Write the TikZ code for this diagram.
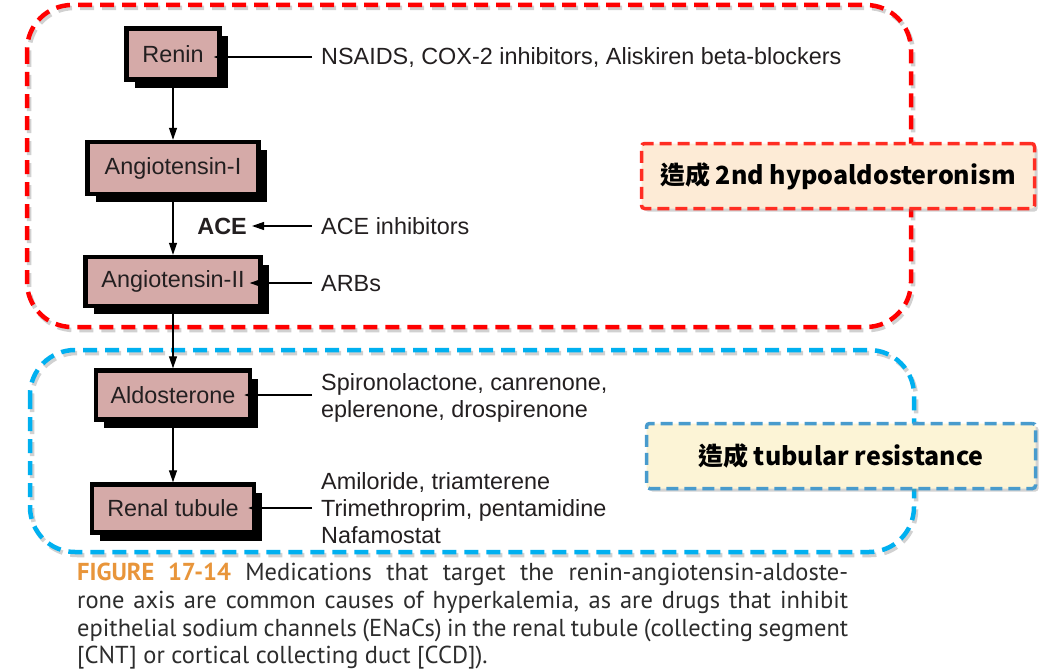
\documentclass[tikz,border=0pt]{standalone}
\usepackage{fontspec}
\setmainfont{Liberation Sans}
\newfontfamily\cjk{Noto Sans CJK TC}
\newfontfamily\capfont{PT Sans}
\usetikzlibrary{arrows.meta,shadows}
\definecolor{pinkc}{RGB}{213,170,168}
\definecolor{txtc}{RGB}{35,31,32}
\definecolor{regred}{RGB}{255,0,0}
\definecolor{regblue}{RGB}{0,176,240}
\definecolor{lred}{RGB}{255,45,35}
\definecolor{lblue}{RGB}{72,155,205}
\definecolor{lfillA}{RGB}{253,235,214}
\definecolor{lfillB}{RGB}{252,244,214}
\definecolor{capc}{RGB}{45,45,45}
\definecolor{figc}{RGB}{232,149,58}
\begin{document}
\begin{tikzpicture}[x=1pt,y=-1pt,
  txt/.style={font=\fontsize{23.4}{27}\selectfont, text=txtc, inner sep=0pt, anchor=base west},
  stage/.style={draw=black, line width=4.4pt, fill=pinkc, inner sep=0pt, text=txtc,
    font=\fontsize{23.4}{27}\selectfont,
    general shadow={fill=black, shadow xshift=8pt, shadow yshift=-8pt}},
  arr/.style={-{Triangle[length=12pt,width=8pt]}, line width=1.2pt, draw=black},
  side/.style={arr, shorten >=-8pt},
  region/.style={line width=4.5pt, dash pattern=on 14pt off 8pt, rounded corners=45pt},
  regshadow/.style={region, draw=black!40, opacity=0.45},
  labelbox/.style={line width=3.5pt, dash pattern=on 12pt off 6pt, rounded corners=3pt,
    inner sep=0pt, minimum height=65pt, text=black,
    font=\cjk\bfseries\fontsize{25}{30}\selectfont,
    drop shadow={shadow xshift=3pt, shadow yshift=-3pt, opacity=0.35}},
  captext/.style={font=\capfont\fontsize{24.5}{28}\selectfont, text=capc, inner sep=0pt, anchor=base west}
]
\useasboundingbox[fill=white] (0,0) rectangle (1060,669);

% regions
\draw[regshadow] (29,8) rectangle (913,330);
\draw[regshadow] (32,353) rectangle (916,555);
\draw[region, draw=regred] (27,5) rectangle (911,327);
\draw[region, draw=regblue] (30,350) rectangle (914,552);

% stages
\node[stage, minimum width=93pt, minimum height=51pt] (renin) at (173,54) {Renin};
\node[stage, minimum width=171pt, minimum height=52pt] (angI) at (173,168) {Angiotensin-I};
\node[stage, minimum width=175pt, minimum height=49pt] (angII) at (173,281.5) {Angiotensin-II};
\node[stage, minimum width=154pt, minimum height=49pt] (aldo) at (173,395) {Aldosterone};
\node[stage, minimum width=162pt, minimum height=48pt] (renal) at (173,508.5) {Renal tubule};

\node[txt, font=\bfseries\fontsize{23.4}{27}\selectfont, anchor=base east] (ace) at (247,234) {ACE};

\draw[arr] (renin) -- (angI);
\draw[arr] (angI) -- (angII);
\draw[arr] (angII) -- (aldo);
\draw[arr] (aldo) -- (renal);

% drug texts
\node[txt] (t1) at (321,65) {NSAIDS, COX-2 inhibitors, Aliskiren beta-blockers};
\node[txt] (t2) at (321,234) {ACE inhibitors};
\node[txt] (t3) at (321,291) {ARBs};
\node[txt] (t4a) at (321,390) {Spironolactone, canrenone,};
\node[txt] (t4b) at (321,417) {eplerenone, drospirenone};
\node[txt] (t5a) at (321,489) {Amiloride, triamterene};
\node[txt] (t5b) at (321,516) {Trimethroprim, pentamidine};
\node[txt] (t5c) at (321,543) {Nafamostat};

\coordinate (c1) at (312,57);
\coordinate (c2) at (312,226);
\coordinate (c3) at (312,283);
\coordinate (c4) at (312,395);
\coordinate (c5) at (312,508);
\draw[side] (c1) -- (c1 -| renin.east);
\draw[arr, shorten >=5pt] (c2) -- (c2 -| ace.east);
\draw[arr, shorten >=-13pt] (c3) -- (c3 -| angII.east);
\draw[side] (c4) -- (c4 -| aldo.east);
\draw[side] (c5) -- (c5 -| renal.east);

% labels
\node[labelbox, draw=lred, fill=lfillA, minimum width=393pt] (labA) at (838,176) {造成 2nd hypoaldosteronism};
\node[labelbox, draw=lblue, fill=lfillB, minimum width=389pt] (labB) at (841,456) {造成 tubular resistance};

% caption
\node[captext] (cap1) at (77,580) {\makebox[771pt][s]{\textcolor{figc}{\bfseries FIGURE 17-14} Medications that target the renin-angiotensin-aldoste-}};
\node[captext] (cap2) at (77,608) {\makebox[771pt][s]{rone axis are common causes of hyperkalemia, as are drugs that inhibit}};
\node[captext] (cap3) at (77,636) {\makebox[771pt][s]{epithelial sodium channels (ENaCs) in the renal tubule (collecting segment}};
\node[captext] (cap4) at (77,663) {[CNT] or cortical collecting duct [CCD]).};
\end{tikzpicture}
\end{document}
